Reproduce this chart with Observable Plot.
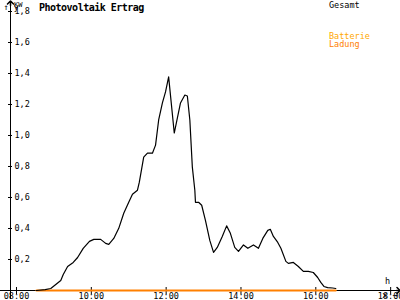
<!DOCTYPE html>
<html>
<head>
<meta charset="utf-8">
<script src="https://cdn.jsdelivr.net/npm/d3@7"></script>
<script src="https://cdn.jsdelivr.net/npm/@observablehq/plot@0.6"></script>
<style>
  html, body { margin: 0; padding: 0; background: white; }
  #chart { position: relative; width: 400px; height: 300px; overflow: hidden; }
</style>
</head>
<body>
<div id="chart"></div>
<script>
// Photovoltaik (Gesamt) – time of day and power in kW
const times = ["08:32","08:46","08:55","09:03","09:11","09:15","09:22","09:31","09:38","09:47","09:57","10:04","10:15","10:23","10:28","10:36","10:44","10:52","11:00","11:06","11:14","11:17","11:24","11:30","11:38","11:43","11:48","11:54","11:59","12:04","12:13","12:23","12:30","12:34","12:38","12:42","12:46","12:47","12:52","12:57","13:03","13:10","13:16","13:22","13:30","13:37","13:43","13:50","13:56","14:04","14:11","14:20","14:28","14:35","14:43","14:47","14:52","14:59","15:04","15:12","15:16","15:24","15:32","15:40","15:48","15:56","16:03","16:08","16:13","16:19","16:27","16:32"];
const pv = [0,0.006,0.013,0.039,0.065,0.103,0.155,0.181,0.213,0.272,0.317,0.330,0.330,0.304,0.298,0.336,0.401,0.498,0.569,0.621,0.647,0.699,0.860,0.886,0.886,0.938,1.100,1.210,1.281,1.378,1.016,1.210,1.261,1.255,1.100,0.796,0.647,0.569,0.569,0.550,0.453,0.323,0.246,0.278,0.349,0.417,0.369,0.278,0.252,0.294,0.272,0.294,0.272,0.336,0.388,0.395,0.349,0.310,0.272,0.188,0.175,0.181,0.155,0.123,0.123,0.116,0.084,0.052,0.026,0.019,0.016,0.013];
// Batterie Ladung
const batteryTimes = ["08:32","16:32"];
const batteryValues = [0, 0];
// axis ticks
const xTicks = [8, 10, 12, 14, 16, 18];
const yTicks = [0.2, 0.4, 0.6, 0.8, 1.0, 1.2, 1.4, 1.6, 1.8];

const hour = s => { const [h, m] = s.split(":").map(Number); return h + m / 60; };
const pvData = times.map((t, i) => ({x: hour(t), y: pv[i]}));
const batData = batteryTimes.map((t, i) => ({x: hour(t), y: batteryValues[i]}));

const xMin = 7.84, xMax = 18.21, xLeftEdge = 7.57;
const yMin = 0, yMax = 1.858, yBottomEdge = -0.058;
const fmtX = h => String(h).padStart(2, "0") + ":00";
const fmtY = v => v.toFixed(1).replace(".", ",");

const plot = Plot.plot({
  width: 400,
  height: 300,
  marginLeft: 10,
  marginRight: 2,
  marginTop: 2,
  marginBottom: 10,
  style: {fontFamily: "DejaVu Sans Mono", fontSize: "8.5px", background: "white", color: "black", overflow: "visible"},
  x: {domain: [xMin, xMax], axis: null},
  y: {domain: [yMin, yMax], axis: null},
  marks: [
    // axis lines
    Plot.ruleY([0], {x1: xLeftEdge, x2: xMax, stroke: "black"}),
    Plot.ruleX([xMin], {y1: yBottomEdge, y2: yMax, stroke: "black"}),
    Plot.line([{x: xMin, y: yMax - 0.02}, {x: xMin, y: yMax}], {x: "x", y: "y", stroke: "black", markerEnd: "arrow"}),
    Plot.line([{x: xMax - 0.05, y: 0}, {x: xMax, y: 0}], {x: "x", y: "y", stroke: "black", markerEnd: "arrow"}),
    // ticks
    Plot.axisY(yTicks, {anchor: "left", tickSize: 4, dx: 2, tickFormat: () => ""}),
    Plot.axisX(xTicks, {anchor: "bottom", tickSize: 7, dy: -3, tickFormat: () => ""}),
    Plot.text(yTicks, {y: d => d, frameAnchor: "left", dx: 4, textAnchor: "start", text: fmtY, fill: "black"}),
    Plot.text(xTicks, {x: d => d, frameAnchor: "bottom", dy: 6, lineAnchor: "middle", text: fmtX, fill: "black"}),
    // data
    Plot.line(batData, {x: "x", y: "y", stroke: "#ff8000", strokeWidth: 2}),
    Plot.line(pvData, {x: "x", y: "y", stroke: "black", strokeWidth: 1.2})
  ]
});
document.getElementById("chart").appendChild(plot);

const svg = d3.select(plot);
const addText = (x, y, txt, opts = {}) => svg.append("text")
  .attr("x", x).attr("y", y).text(txt)
  .attr("text-anchor", "start")
  .attr("font-family", "DejaVu Sans Mono")
  .attr("font-size", opts.size || "8.5px")
  .attr("font-weight", opts.weight || "normal")
  .attr("letter-spacing", opts.ls || 0)
  .attr("fill", opts.fill || "black");
addText(14, 7, "KW", {size: "7px"});
addText(39, 11, "Photovoltaik Ertrag", {size: "10px", weight: "bold", ls: "-0.5px"});
addText(329, 7.5, "Gesamt");
addText(329, 39, "Batterie", {fill: "#ffa800"});
addText(329, 46.5, "Ladung", {fill: "#ff8000"});
addText(385, 284, "h");
</script>
</body>
</html>
